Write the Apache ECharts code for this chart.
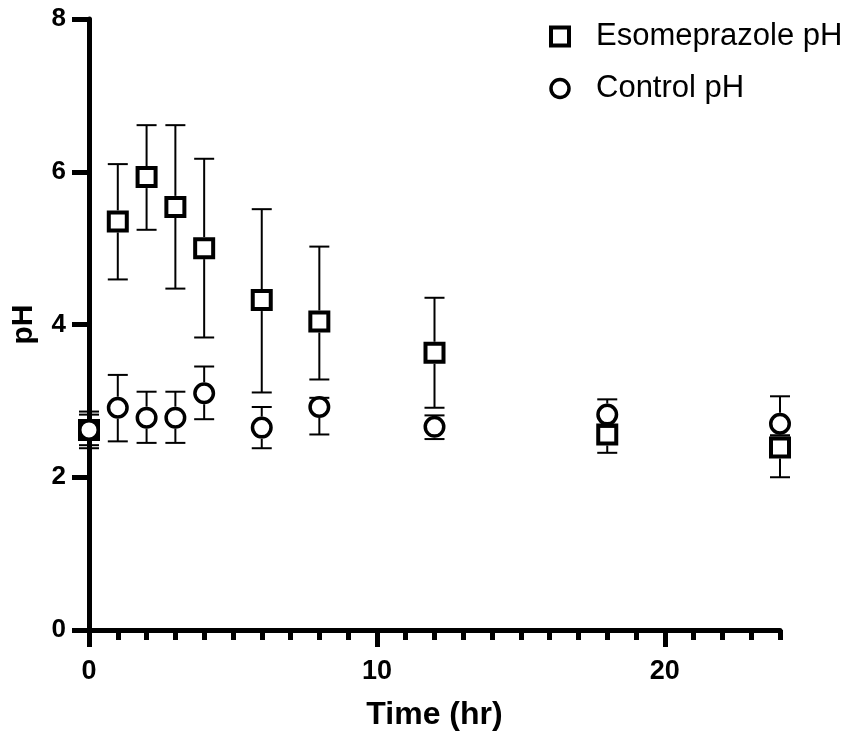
<!DOCTYPE html>
<html>
<head>
<meta charset="utf-8">
<script src="https://cdn.jsdelivr.net/npm/echarts@6/dist/echarts.min.js"></script>
<style>
  html, body { margin: 0; padding: 0; background: #fff; }
  #main { width: 851px; height: 742px; }
</style>
</head>
<body>
<div id="main"></div>
<script>
// sampling times (hr)
var times = [0, 1, 2, 3, 4, 6, 8, 12, 18, 24];

// Esomeprazole pH: mean and error bar ends
var esoMean = [2.62, 5.35, 5.93, 5.54, 5.00, 4.32, 4.04, 3.63, 2.56, 2.39];
var esoLow  = [2.38, 4.59, 5.24, 4.47, 3.83, 3.11, 3.28, 2.91, 2.32, 2.00];
var esoHigh = [2.86, 6.10, 6.61, 6.61, 6.17, 5.51, 5.02, 4.35, 2.68, 2.52];

// Control pH
var ctlMean = [2.62, 2.91, 2.78, 2.78, 3.10, 2.65, 2.92, 2.66, 2.82, 2.70];
var ctlLow  = [2.42, 2.47, 2.45, 2.45, 2.76, 2.38, 2.56, 2.50, 2.66, 2.55];
var ctlHigh = [2.82, 3.34, 3.12, 3.12, 3.45, 2.92, 3.04, 2.81, 3.02, 3.06];

var yTicks = [0, 2, 4, 6, 8];
var xMajor = [0, 10, 20];

var FONT = '"Liberation Sans", Arial, sans-serif';

function pts(mean) {
    return times.map(function (t, i) { return [t, mean[i]]; });
}
function bars(mean, low, high) {
    return times.map(function (t, i) { return [t, mean[i], low[i], high[i]]; });
}

// error bar drawn outward from the marker edge
function renderErr(params, api) {
    var c = api.coord([api.value(0), api.value(1)]);
    var lo = api.coord([api.value(0), api.value(2)]);
    var hi = api.coord([api.value(0), api.value(3)]);
    var gap = 11, half = 10;
    var st = { stroke: '#000', lineWidth: 2 };
    var kids = [];
    if (hi[1] < c[1] - gap) {
        kids.push({ type: 'line', shape: { x1: c[0], y1: c[1] - gap, x2: hi[0], y2: hi[1] }, style: st });
    }
    if (lo[1] > c[1] + gap) {
        kids.push({ type: 'line', shape: { x1: c[0], y1: c[1] + gap, x2: lo[0], y2: lo[1] }, style: st });
    }
    kids.push({ type: 'line', shape: { x1: hi[0] - half, y1: hi[1], x2: hi[0] + half, y2: hi[1] }, style: st });
    kids.push({ type: 'line', shape: { x1: lo[0] - half, y1: lo[1], x2: lo[0] + half, y2: lo[1] }, style: st });
    return { type: 'group', children: kids };
}

var myChart = echarts.init(document.getElementById('main'));
var option = {
    backgroundColor: '#fff',
    animation: false,
    grid: { left: 89, right: 71, top: 19, bottom: 112 },
    legend: {
        orient: 'vertical',
        left: 544,
        top: 16,
        itemWidth: 18,
        itemHeight: 18,
        itemGap: 21,
        data: [
            { name: 'Esomeprazole pH', itemStyle: { color: '#fff', borderColor: '#000', borderWidth: 4 } },
            { name: 'Control pH', itemStyle: { color: '#fff', borderColor: '#000', borderWidth: 3.5 } }
        ],
        textStyle: { fontSize: 31, color: '#000', fontFamily: FONT, padding: [0, 0, 0, 22] }
    },
    xAxis: [
        {
            type: 'value',
            min: 0, max: 24,
            interval: 10,
            axisLine: { onZero: false, lineStyle: { color: '#000', width: 5 } },
            axisTick: { customValues: xMajor, length: 17, lineStyle: { color: '#000', width: 5 } },
            axisLabel: {
                customValues: xMajor,
                margin: 28,
                fontSize: 27, fontWeight: 'bold', color: '#000', fontFamily: FONT
            },
            splitLine: { show: false },
            name: 'Time (hr)',
            nameLocation: 'middle',
            nameGap: 69,
            nameTextStyle: { fontSize: 32, fontWeight: 'bold', color: '#000', fontFamily: FONT }
        },
        {
            type: 'value',
            min: 0, max: 24,
            interval: 1,
            position: 'bottom',
            axisLine: { show: false },
            axisTick: { length: 10, lineStyle: { color: '#000', width: 5 } },
            axisLabel: { show: false },
            splitLine: { show: false }
        }
    ],
    yAxis: {
        type: 'value',
        min: 0, max: 8,
        interval: 2,
        axisLine: { show: true, onZero: false, lineStyle: { color: '#000', width: 5 } },
        axisTick: { show: true, customValues: yTicks, length: 17, lineStyle: { color: '#000', width: 5 } },
        axisLabel: {
            customValues: yTicks,
            margin: 23,
            fontSize: 26, fontWeight: 'bold', color: '#000', fontFamily: FONT
        },
        splitLine: { show: false },
        name: 'pH',
        nameLocation: 'middle',
        nameGap: 50,
        nameTextStyle: { fontSize: 30, fontWeight: 'bold', color: '#000', fontFamily: FONT }
    },
    series: [
        {
            name: 'Esomeprazole pH',
            type: 'scatter',
            symbol: 'rect',
            symbolSize: 18,
            itemStyle: { color: '#fff', borderColor: '#000', borderWidth: 4, opacity: 1 },
            data: pts(esoMean),
            z: 3
        },
        {
            name: 'Control pH',
            type: 'scatter',
            symbol: 'circle',
            symbolSize: 18.5,
            itemStyle: { color: '#fff', borderColor: '#000', borderWidth: 3.5, opacity: 1 },
            data: pts(ctlMean),
            z: 3
        },
        {
            name: 'eso err',
            type: 'custom',
            renderItem: renderErr,
            data: bars(esoMean, esoLow, esoHigh),
            z: 5
        },
        {
            name: 'ctl err',
            type: 'custom',
            renderItem: renderErr,
            data: bars(ctlMean, ctlLow, ctlHigh),
            z: 5
        }
    ]
};
myChart.setOption(option);
</script>
</body>
</html>
